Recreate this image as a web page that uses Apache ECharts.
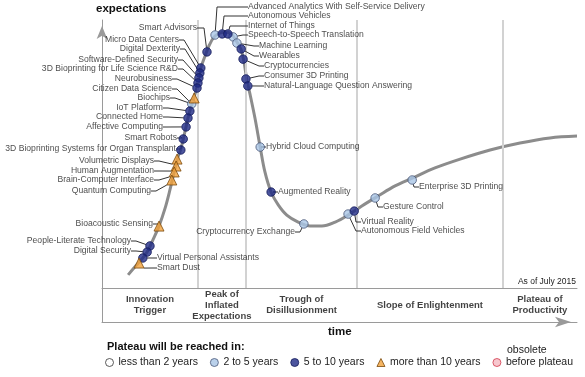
<!DOCTYPE html>
<html>
<head>
<meta charset="utf-8">
<script src="https://cdn.jsdelivr.net/npm/echarts@6/dist/echarts.min.js"></script>
<style>
  html, body { margin: 0; padding: 0; background: #fff; }
  #main { width: 585px; height: 377px; }
</style>
</head>
<body>
<div id="main"></div>
<script>
    // hype curve (time 0-100, expectations 0-100)
    var curveX = [5.5, 6.9, 8.2, 9.5, 10.7, 12.0, 13.3, 14.3, 15.2, 16.0, 16.6, 17.5, 18.3, 19.2, 20.0, 20.8, 21.7, 22.5, 23.6, 24.8,
        26.1, 27.4, 28.4, 29.3, 29.9, 30.5, 31.2, 32.2, 33.3, 34.3, 35.6, 37.1, 38.9, 41.3, 43.8, 46.3, 49.1, 51.8, 54.7, 58.1,
        61.7, 65.3, 70.1, 75.4, 81.7, 88.0, 94.3, 100];
    var curveY = [4.9, 7.8, 10.4, 13.4, 17.9, 23.1, 29.9, 36.6, 43.3, 48.9, 51.9, 58.6, 64.9, 70.1, 75.0, 82.1, 86.6, 90.3, 93.7, 95.1,
        95.5, 94.4, 91.8, 88.8, 84.3, 77.6, 72.0, 63.4, 52.6, 43.3, 35.8, 31.0, 27.2, 24.6, 23.1, 23.1, 24.6, 27.2, 30.6, 34.3,
        38.1, 41.0, 44.8, 48.1, 51.5, 54.1, 56.0, 56.7];

    // technologies on the curve
    var techNames = ['Advanced Analytics With Self-Service Delivery', 'Autonomous Vehicles', 'Internet of Things',
        'Speech-to-Speech Translation', 'Machine Learning', 'Wearables', 'Cryptocurrencies', 'Consumer 3D Printing',
        'Natural-Language Question Answering', 'Hybrid Cloud Computing', 'Augmented Reality', 'Cryptocurrency Exchange',
        'Autonomous Field Vehicles', 'Virtual Reality', 'Gesture Control', 'Enterprise 3D Printing', 'Smart Advisors',
        'Micro Data Centers', 'Digital Dexterity', 'Software-Defined Security', '3D Bioprinting for Life Science R&D',
        'Neurobusiness', 'Citizen Data Science', 'Biochips', 'IoT Platform', 'Connected Home', 'Affective Computing',
        'Smart Robots', '3D Bioprinting Systems for Organ Transplant', 'Volumetric Displays', 'Human Augmentation',
        'Brain-Computer Interface', 'Quantum Computing', 'Bioacoustic Sensing', 'People-Literate Technology',
        'Digital Security', 'Virtual Personal Assistants', 'Smart Dust'];
    var techX = [23.8, 25.3, 26.5, 27.6, 28.4, 29.3, 29.7, 30.3, 30.7, 33.3, 35.6, 42.5, 51.8, 53.1, 57.5, 65.3, 22.1,
        20.8, 20.6, 20.4, 20.2, 20.0, 18.9, 19.4, 18.5, 18.1, 17.7, 17.1, 16.6, 15.8, 15.6, 15.2, 14.7, 12.0, 10.1, 9.5, 8.6, 7.8];
    var techY = [94.4, 94.8, 94.8, 93.7, 91.4, 89.2, 85.4, 78.0, 75.4, 52.6, 35.8, 23.9, 27.6, 28.7, 33.6, 40.3, 88.1,
        82.1, 80.2, 78.4, 76.5, 74.6, 68.7, 70.9, 66.0, 63.4, 60.1, 55.6, 51.5, 48.1, 45.5, 43.3, 40.3, 23.1, 15.7, 13.4, 11.2, 9.3];
    var techPlateau = ['2 to 5 years', '5 to 10 years', '5 to 10 years', '2 to 5 years', '2 to 5 years', '5 to 10 years',
        '5 to 10 years', '5 to 10 years', '5 to 10 years', '2 to 5 years', '5 to 10 years', '2 to 5 years', '2 to 5 years',
        '5 to 10 years', '2 to 5 years', '2 to 5 years', '5 to 10 years', '5 to 10 years', '5 to 10 years', '5 to 10 years',
        '5 to 10 years', '5 to 10 years', '2 to 5 years', 'more than 10 years', '5 to 10 years', '5 to 10 years',
        '5 to 10 years', '5 to 10 years', '5 to 10 years', 'more than 10 years', 'more than 10 years', 'more than 10 years',
        'more than 10 years', 'more than 10 years', '5 to 10 years', '5 to 10 years', '5 to 10 years', 'more than 10 years'];

    var phaseNames = ['Innovation\nTrigger', 'Peak of\nInflated\nExpectations', 'Trough of\nDisillusionment',
        'Slope of Enlightenment', 'Plateau of\nProductivity'];
    var phaseBounds = [0, 20.2, 30.3, 53.7, 84.4, 100];

    var plateauNames = ['less than 2 years', '2 to 5 years', '5 to 10 years', 'more than 10 years', 'obsolete before plateau'];

    // where each label sits (px) and on which side of its point
    var labelPlace = {
        'Advanced Analytics With Self-Service Delivery': [246, 7, 'r'],
        'Autonomous Vehicles': [246, 16, 'r'],
        'Internet of Things': [246, 26, 'r'],
        'Speech-to-Speech Translation': [246, 35, 'r'],
        'Machine Learning': [257, 46, 'r'],
        'Wearables': [257, 56, 'r'],
        'Cryptocurrencies': [262, 66, 'r'],
        'Consumer 3D Printing': [262, 76, 'r'],
        'Natural-Language Question Answering': [262, 86, 'r'],
        'Hybrid Cloud Computing': [264, 147, 'r'],
        'Augmented Reality': [276, 192, 'r'],
        'Cryptocurrency Exchange': [297, 232, 'l'],
        'Autonomous Field Vehicles': [359, 231, 'r'],
        'Virtual Reality': [359, 222, 'r'],
        'Gesture Control': [381, 207, 'r'],
        'Enterprise 3D Printing': [417, 187, 'r'],
        'Smart Advisors': [199, 28, 'l'],
        'Micro Data Centers': [181, 40, 'l'],
        'Digital Dexterity': [182, 49, 'l'],
        'Software-Defined Security': [180, 60, 'l'],
        '3D Bioprinting for Life Science R&D': [180, 69, 'l'],
        'Neurobusiness': [174, 79, 'l'],
        'Citizen Data Science': [174, 89, 'l'],
        'Biochips': [172, 98, 'l'],
        'IoT Platform': [165, 108, 'l'],
        'Connected Home': [165, 117, 'l'],
        'Affective Computing': [165, 127, 'l'],
        'Smart Robots': [179, 138, 'l'],
        '3D Bioprinting Systems for Organ Transplant': [178, 149, 'l'],
        'Volumetric Displays': [156, 161, 'l'],
        'Human Augmentation': [156, 171, 'l'],
        'Brain-Computer Interface': [156, 180, 'l'],
        'Quantum Computing': [153, 191, 'l'],
        'Bioacoustic Sensing': [155, 224, 'l'],
        'People-Literate Technology': [133, 241, 'l'],
        'Digital Security': [133, 251, 'l'],
        'Virtual Personal Assistants': [155, 258, 'r'],
        'Smart Dust': [155, 268, 'r']
    };
    // longer horizontal leader stubs (px) for the labels stacked above the peak
    var labelStub = {
        'Advanced Analytics With Self-Service Delivery': 31,
        'Autonomous Vehicles': 24,
        'Internet of Things': 18,
        'Smart Advisors': 7
    };

    var plateauStyle = {
        'less than 2 years': { symbol: 'circle', size: 8, color: '#ffffff', border: '#333333' },
        '2 to 5 years': { symbol: 'circle', size: 8.5, color: '#a9c5e6', border: '#4a5878' },
        '5 to 10 years': { symbol: 'circle', size: 8.5, color: '#1f2a86', border: '#141b5a' },
        'more than 10 years': { symbol: 'triangle', size: 10, color: '#f2a13a', border: '#7a4a0c' },
        'obsolete before plateau': { symbol: 'circle', size: 8, color: '#f5b9c2', border: '#d23a4c' }
    };

    var font = 'Liberation Sans';
    var axisGray = '#9a9a9a';

    function placeLabel(p) {
        var pl = labelPlace[p.text];
        if (!pl) return {};
        return { x: pl[0], y: pl[1], align: pl[2] === 'l' ? 'right' : 'left', verticalAlign: 'middle' };
    }

    var myChart = echarts.init(document.getElementById('main'));

    var series = [];
    // hype curve
    series.push({
        type: 'line',
        xAxisIndex: 0,
        yAxisIndex: 0,
        data: curveX.map(function (x, i) { return [x, curveY[i]]; }),
        smooth: 0.35,
        showSymbol: false,
        silent: true,
        z: 3,
        lineStyle: { color: '#8c8c8c', width: 3 }
    });
    // phase dividers
    series.push({
        type: 'scatter',
        xAxisIndex: 0,
        yAxisIndex: 0,
        data: [],
        silent: true,
        z: 1,
        markLine: {
            silent: true,
            symbol: ['none', 'none'],
            label: { show: false },
            lineStyle: { color: '#d2d2d2', width: 2, type: 'solid' },
            data: phaseBounds.slice(1, -1).map(function (v) { return { xAxis: v }; })
        }
    });

    plateauNames.forEach(function (cat) {
        var st = plateauStyle[cat];
        var pts = [];
        techNames.forEach(function (n, i) {
            if (techPlateau[i] !== cat) return;
            var item = { name: n, value: [techX[i], techY[i]] };
            if (labelStub[n]) item.labelLine = { length2: labelStub[n] };
            pts.push(item);
        });
        series.push({
            name: cat,
            type: 'scatter',
            xAxisIndex: 0,
            yAxisIndex: 0,
            data: pts,
            symbol: st.symbol,
            symbolSize: st.size,
            z: 5,
            itemStyle: { color: st.color, borderColor: st.border, borderWidth: 1 },
            label: {
                show: true,
                formatter: '{b}',
                fontFamily: font,
                fontSize: 8.6,
                color: '#1a1a1a',
                padding: [0, 2]
            },
            labelLine: {
                show: true,
                length2: 5,
                lineStyle: { color: '#333', width: 1 }
            },
            labelLayout: placeLabel
        });
    });

    // phase names in the strip under the curve
    series.push({
        type: 'scatter',
        xAxisIndex: 1,
        yAxisIndex: 1,
        silent: true,
        symbolSize: 0.1,
        itemStyle: { color: 'rgba(0,0,0,0)' },
        data: phaseNames.map(function (n, i) {
            return { name: n, value: [(phaseBounds[i] + phaseBounds[i + 1]) / 2, 0.5] };
        }),
        label: {
            show: true,
            position: 'inside',
            formatter: '{b}',
            fontFamily: font,
            fontWeight: 'bold',
            fontSize: 9.5,
            lineHeight: 11,
            color: '#111'
        }
    });

    var option = {
        animation: false,
        title: [
            { text: 'expectations', left: 96, top: 3, padding: 0,
              textStyle: { fontFamily: font, fontSize: 11.5, fontWeight: 'bold', color: '#111' } },
            { text: 'time', left: 328, top: 326, padding: 0,
              textStyle: { fontFamily: font, fontSize: 11.5, fontWeight: 'bold', color: '#111' } },
            { text: 'Plateau will be reached in:', left: 107, top: 341, padding: 0,
              textStyle: { fontFamily: font, fontSize: 11, fontWeight: 'bold', color: '#111' } },
            { text: 'As of July 2015', right: 9, top: 277, padding: 0,
              textStyle: { fontFamily: font, fontSize: 8.5, fontWeight: 'normal', color: '#222' } },
            { text: 'obsolete', left: 507, top: 345, padding: 0,
              textStyle: { fontFamily: font, fontSize: 10.5, fontWeight: 'normal', color: '#222' } }
        ],
        legend: {
            left: 105,
            top: 357,
            width: 480,
            padding: 0,
            itemWidth: 8,
            itemHeight: 8,
            itemGap: 12,
            selectedMode: false,
            textStyle: { fontFamily: font, fontSize: 10.5, color: '#222' },
            formatter: function (name) {
                return name === 'obsolete before plateau' ? 'before plateau' : name;
            },
            data: plateauNames.map(function (cat) {
                var st = plateauStyle[cat];
                return { name: cat, icon: st.symbol,
                    itemStyle: { color: st.color, borderColor: st.border, borderWidth: 1 } };
            })
        },
        grid: [
            { left: 102, right: 8, top: 20, height: 268 },
            { left: 102, right: 8, top: 288, height: 34 }
        ],
        xAxis: [
            {
                type: 'value', gridIndex: 0, min: 0, max: 100,
                axisLine: { show: true, onZero: false, lineStyle: { color: axisGray, width: 1 } },
                axisTick: { show: false }, axisLabel: { show: false }, splitLine: { show: false }
            },
            {
                type: 'value', gridIndex: 1, min: 0, max: 100,
                axisLine: {
                    show: true, onZero: false,
                    symbol: ['none', 'arrow'], symbolSize: [8, 16], symbolOffset: [0, -6],
                    lineStyle: { color: axisGray, width: 1 }
                },
                axisTick: { show: false }, axisLabel: { show: false }, splitLine: { show: false }
            }
        ],
        yAxis: [
            {
                type: 'value', gridIndex: 0, min: 0, max: 100,
                axisLine: {
                    show: true, onZero: false,
                    symbol: ['none', 'arrow'], symbolSize: [8, 13], symbolOffset: [0, -6],
                    lineStyle: { color: axisGray, width: 1 }
                },
                axisTick: { show: false }, axisLabel: { show: false }, splitLine: { show: false }
            },
            {
                type: 'value', gridIndex: 1, min: 0, max: 1,
                axisLine: { show: true, onZero: false, lineStyle: { color: axisGray, width: 1 } },
                axisTick: { show: false }, axisLabel: { show: false }, splitLine: { show: false }
            }
        ],
        series: series
    };
    myChart.setOption(option);
</script>
</body>
</html>
